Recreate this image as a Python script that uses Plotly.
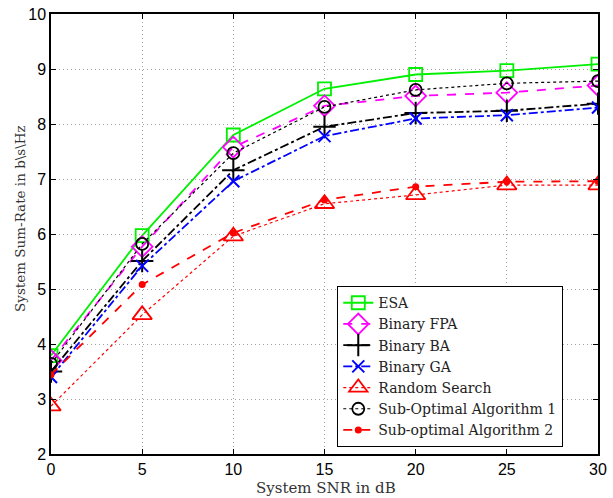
import plotly.graph_objects as go

snr = [0, 5, 10, 15, 20, 25, 30]
esa = [3.79, 5.97, 7.80, 8.64, 8.90, 8.97, 9.09]
fpa = [3.70, 5.77, 7.58, 8.33, 8.51, 8.57, 8.70]
ba = [3.50, 5.51, 7.16, 7.95, 8.20, 8.24, 8.37]
ga = [3.40, 5.42, 6.96, 7.78, 8.10, 8.16, 8.30]
rnd = [2.87, 4.53, 5.96, 6.55, 6.71, 6.89, 6.89]
sub1 = [3.64, 5.82, 7.47, 8.31, 8.62, 8.74, 8.78]
sub2 = [3.44, 5.08, 6.02, 6.62, 6.86, 6.95, 6.96]

x_ticks = [0, 5, 10, 15, 20, 25, 30]
y_ticks = [2, 3, 4, 5, 6, 7, 8, 9, 10]

fig = go.Figure()

def add(name, y, color, dash, symbol, size, width=1.8, mwidth=1.8):
    fig.add_trace(go.Scatter(
        x=snr, y=y, name=name, mode="lines+markers",
        line=dict(color=color, dash=dash, width=width),
        marker=dict(symbol=symbol, size=size, color=color,
                    line=dict(color=color, width=mwidth)),
    ))

add("ESA", esa, "#00f000", "solid", "square-open", 13)
add("Binary FPA", fpa, "#ff00ff", "dash", "diamond-open", 16)
add("Binary BA", ba, "black", "dashdot", "cross-thin", 16, mwidth=2)
add("Binary GA", ga, "#0000ff", "dashdot", "x-thin", 12, mwidth=2)
add("Random Search", rnd, "#ff0000", "dot", "triangle-up-open", 17, width=1.2)
add("Sub-Optimal Algorithm 1", sub1, "black", "dot", "circle-open", 12, width=1.2)
add("Sub-optimal Algorithm 2", sub2, "#ff0000", "dash", "circle", 7, mwidth=0)

axis_common = dict(
    showline=True, linecolor="black", linewidth=1.5, mirror="ticks",
    ticks="inside", ticklen=5, tickcolor="black",
    showgrid=True, gridcolor="#a0a0a0", gridwidth=1, griddash="1px,3px",
    zeroline=False, automargin=False, ticklabeloverflow="allow",
    tickfont=dict(family="Liberation Sans, Arial", size=16, color="black"),
)

fig.update_xaxes(range=[0, 30], tickvals=x_ticks, **axis_common)
fig.update_yaxes(range=[2, 10], tickvals=y_ticks, **axis_common)

fig.add_annotation(text="System SNR in dB",
                   xref="paper", yref="paper", x=0.503, y=-0.078,
                   xanchor="center", yanchor="middle", showarrow=False,
                   font=dict(family="DejaVu Serif, serif", size=15, color="#333"))
fig.add_annotation(text="System Sum-Rate in b\\s\\Hz", textangle=-90,
                   xref="paper", yref="paper", x=-0.057, y=0.536,
                   xanchor="center", yanchor="middle", showarrow=False,
                   font=dict(family="DejaVu Serif, serif", size=13.5, color="#333"))

fig.update_layout(
    width=613, height=498,
    margin=dict(l=51, r=15, t=14, b=44),
    plot_bgcolor="white", paper_bgcolor="white",
    legend=dict(x=0.523, y=0.016, xanchor="left", yanchor="bottom",
                bgcolor="white", bordercolor="black", borderwidth=1.2,
                font=dict(family="DejaVu Serif, serif", size=14, color="#222"),
                tracegroupgap=0, itemwidth=30),
    showlegend=True,
)

# remove the default 8px page margin so the figure fills the window exactly
fig.write_html("out.html", config={"displayModeBar": False},
               post_script="document.body.style.margin='0';document.body.style.overflow='hidden';")
